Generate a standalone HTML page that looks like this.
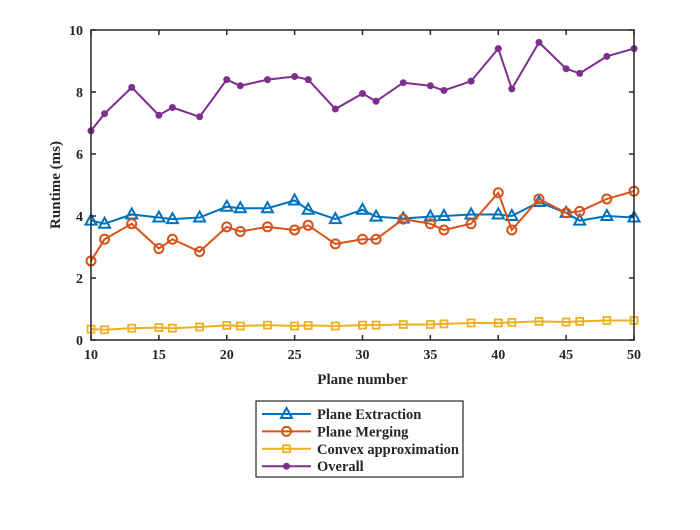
<!DOCTYPE html>
<html><head><meta charset="utf-8"><style>
body{margin:0;background:#fff}
svg text{font-family:"Liberation Serif",serif;font-weight:bold;fill:#262626}
</style></head><body>
<svg id="chart" width="700" height="525" viewBox="0 0 700 525" xmlns="http://www.w3.org/2000/svg">
<rect width="700" height="525" fill="#fff"/>
<g id="marks"></g>
<g id="axes"></g>
</svg>
<script>
const planes=[10,11,13,15,16,18,20,21,23,25,26,28,30,31,33,35,36,38,40,41,43,45,46,48,50];
const extraction=[3.85,3.75,4.05,3.95,3.9,3.95,4.3,4.25,4.25,4.5,4.2,3.9,4.2,3.98,3.92,3.98,4.0,4.05,4.05,4.0,4.45,4.1,3.85,4.0,3.95];
const merging=[2.55,3.25,3.75,2.95,3.25,2.85,3.65,3.5,3.65,3.55,3.7,3.1,3.25,3.25,3.9,3.75,3.55,3.75,4.75,3.55,4.55,4.1,4.15,4.55,4.8];
const convex=[0.35,0.33,0.38,0.4,0.38,0.42,0.47,0.45,0.48,0.45,0.47,0.45,0.48,0.48,0.5,0.5,0.52,0.55,0.55,0.57,0.6,0.58,0.6,0.63,0.63];
const overall=[6.75,7.3,8.15,7.25,7.5,7.2,8.4,8.2,8.4,8.5,8.4,7.45,7.95,7.7,8.3,8.2,8.05,8.35,9.4,8.1,9.6,8.75,8.6,9.15,9.4];
const xTicks=[10,15,20,25,30,35,40,45,50];
const yTicks=[0,2,4,6,8,10];
const seriesNames=["Plane Extraction","Plane Merging","Convex approximation","Overall"];

const NS="http://www.w3.org/2000/svg";
const L=91,R=634,T=30,B=340;
const xs=v=>L+(v-10)/(50-10)*(R-L);
const ys=v=>B-(v/10)*(B-T);
function mk(tag,attrs,parent){const e=document.createElementNS(NS,tag);for(const k in attrs)e.setAttribute(k,attrs[k]);parent.appendChild(e);return e;}
const marks=document.getElementById('marks'),axes=document.getElementById('axes'),svg=document.getElementById('chart');

function marker(type,x,y,color,g){
  let m;
  if(type==='tri'){m=mk('polygon',{points:`${x},${y-6} ${x-5.5},${y+4} ${x+5.5},${y+4}`,fill:'none',stroke:color,'stroke-width':2},g);}
  else if(type==='circ'){m=mk('circle',{cx:x,cy:y,r:4.5,fill:'none',stroke:color,'stroke-width':2},g);}
  else if(type==='sq'){m=mk('rect',{x:x-3.5,y:y-3.5,width:7,height:7,fill:'none',stroke:color,'stroke-width':1.8},g);}
  else {m=mk('circle',{cx:x,cy:y,r:3.5,fill:color},g);}
  return m;
}
const series=[[extraction,'#0072BD','tri'],[merging,'#D95319','circ'],[convex,'#EDB120','sq'],[overall,'#7E2F8E','dot']];
series.forEach(([vals,color,type],si)=>{
  const g=mk('g',{},marks);
  
  
  const pts=planes.map((p,i)=>xs(p)+','+ys(vals[i])).join(' ');
  const pl=mk('polyline',{points:pts,fill:'none',stroke:color,'stroke-width':2},g);
  
  
  planes.forEach((p,i)=>{
    const m=marker(type,xs(p),ys(vals[i]),color,g);
    
    
  });
});
const box=mk('rect',{x:L,y:T,width:R-L,height:B-T,fill:'none',stroke:'#262626','stroke-width':1.5},axes);


xTicks.forEach(t=>{
  const x=xs(t);
  mk('line',{x1:x,x2:x,y1:B,y2:B-5,stroke:'#262626','stroke-width':1.5},axes);
  mk('line',{x1:x,x2:x,y1:T,y2:T+5,stroke:'#262626','stroke-width':1.5},axes);
  const tx=mk('text',{x:x,y:B+19,'text-anchor':'middle','font-size':14},axes);
  tx.textContent=t;
  
  
});
yTicks.forEach(t=>{
  const y=ys(t);
  mk('line',{x1:L,x2:L+5,y1:y,y2:y,stroke:'#262626','stroke-width':1.5},axes);
  mk('line',{x1:R,x2:R-5,y1:y,y2:y,stroke:'#262626','stroke-width':1.5},axes);
  const tx=mk('text',{x:L-8,y:y+5,'text-anchor':'end','font-size':14},axes);
  tx.textContent=t;
  
  
});
const xt=mk('text',{x:(L+R)/2,y:384,'text-anchor':'middle','font-size':15},axes);
xt.textContent='Plane number';


const yt=mk('text',{x:0,y:0,'text-anchor':'middle','font-size':15,transform:`translate(60,${(T+B)/2}) rotate(-90)`},axes);
yt.textContent='Runtime (ms)';


const lg=mk('g',{},svg);


mk('rect',{x:256,y:401,width:207,height:76,fill:'#fff',stroke:'#262626','stroke-width':1.2},lg);
series.forEach(([vals,color,type],i)=>{
  const y=414+i*17.4;
  const e=mk('g',{},lg);
  
  
  mk('line',{x1:262,x2:311,y1:y,y2:y,stroke:color,'stroke-width':2},e);
  marker(type,286.5,y,color,e);
  const tx=mk('text',{x:317,y:y+5,'font-size':14.5},e);
  tx.textContent=seriesNames[i];
});
</script>
</body></html>
